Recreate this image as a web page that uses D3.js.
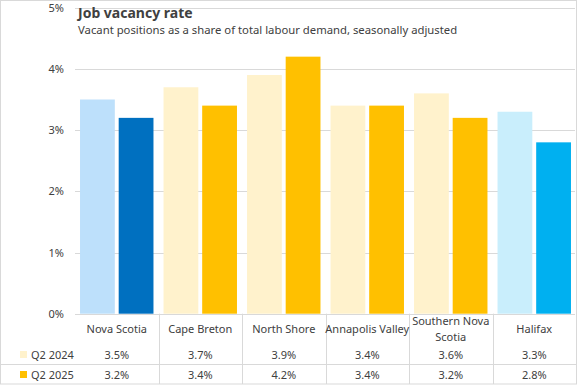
<!DOCTYPE html>
<html>
<head>
<meta charset="utf-8">
<script src="https://cdn.jsdelivr.net/npm/d3@7"></script>
<style>
  body { margin: 0; background: #fff; }
  text { font-family: "Noto Sans", sans-serif; fill: #404040; }
</style>
</head>
<body>
<div id="chart"></div>
<script>
var categories = ["Nova Scotia", "Cape Breton", "North Shore", "Annapolis Valley", "Southern Nova Scotia", "Halifax"];
var seriesNames = ["Q2 2024", "Q2 2025"];
var q2_2024 = [3.5, 3.7, 3.9, 3.4, 3.6, 3.3];
var q2_2025 = [3.2, 3.4, 4.2, 3.4, 3.2, 2.8];
var yTicks = [0, 1, 2, 3, 4, 5];

// colours per region: [light, dark]
var palette = [
  ["#BDE0FB", "#0070C0"],
  ["#FFF2CC", "#FFC000"],
  ["#FFF2CC", "#FFC000"],
  ["#FFF2CC", "#FFC000"],
  ["#FFF2CC", "#FFC000"],
  ["#C9EEFC", "#00B0F0"]
];

var W = 577, H = 385;
var left = 75, right = 576, top0 = 7.7, base = 313.7;

var svg = d3.select("#chart").append("svg")
    .attr("width", W)
    .attr("height", H);

svg.append("rect")
    .attr("x", 0.5).attr("y", 0.5)
    .attr("width", W - 1).attr("height", H - 1.5)
    .attr("fill", "none")
    .attr("stroke", "#D9D9D9");

var x = d3.scaleBand().domain(categories).range([left, right]).paddingInner(0).paddingOuter(0);
var x1 = d3.scaleBand().domain(seriesNames).range([0, x.bandwidth()]).paddingInner(0.1).paddingOuter(0.13);
var y = d3.scaleLinear().domain([0, 5]).range([base, top0]);

// gridlines
svg.append("g").selectAll("line")
    .data(yTicks)
    .enter().append("line")
    .attr("x1", left).attr("x2", right - 1)
    .attr("y1", d => Math.round(y(d)) + 0.5)
    .attr("y2", d => Math.round(y(d)) + 0.5)
    .attr("stroke", "#D9D9D9");

// y axis labels
var yAxis = d3.axisLeft(y).tickValues(yTicks).tickFormat(d => d + "%").tickSize(0).tickPadding(0);
var ya = svg.append("g")
    .attr("transform", "translate(64,0)")
    .call(yAxis);
ya.select(".domain").remove();
ya.selectAll("text")
    .style("font-family", "'Noto Sans', sans-serif")
    .style("font-size", "11px")
    .attr("fill", "#595959");

// bars
var groups = svg.append("g").selectAll("g")
    .data(categories)
    .enter().append("g")
    .attr("transform", d => "translate(" + x(d) + ",0)");

groups.selectAll("rect")
    .data((d, i) => [
      {s: seriesNames[0], v: q2_2024[i], c: palette[i][0]},
      {s: seriesNames[1], v: q2_2025[i], c: palette[i][1]}
    ])
    .enter().append("rect")
    .attr("x", d => x1(d.s))
    .attr("width", x1.bandwidth())
    .attr("y", d => y(d.v))
    .attr("height", d => y(0) - y(d.v))
    .attr("fill", d => d.c);

// title
svg.append("text")
    .attr("x", 78).attr("y", 18)
    .style("font-size", "14px")
    .style("font-weight", "bold")
    .attr("fill", "#000")
    .text("Job vacancy rate");

svg.append("text")
    .attr("x", 78).attr("y", 34)
    .style("font-size", "11.3px")
    .attr("fill", "#262626")
    .text("Vacant positions as a share of total labour demand, seasonally adjusted");

// data table
var table = svg.append("g");

table.selectAll(".vline")
    .data(categories.slice(1))
    .enter().append("line")
    .attr("class", "vline")
    .attr("x1", d => Math.round(x(d)) + 0.5)
    .attr("x2", d => Math.round(x(d)) + 0.5)
    .attr("y1", base)
    .attr("y2", H - 1)
    .attr("stroke", "#D9D9D9");

table.append("line")
    .attr("x1", 0).attr("x2", W)
    .attr("y1", 364.5).attr("y2", 364.5)
    .attr("stroke", "#D9D9D9");

// category labels
table.selectAll(".cat")
    .data(categories)
    .enter().append("text")
    .attr("class", "cat")
    .attr("text-anchor", "middle")
    .style("font-size", "11px")
    .attr("fill", "#404040")
    .each(function(d) {
      var t = d3.select(this);
      var cx = x(d) + x.bandwidth() / 2;
      var lines = d === "Southern Nova Scotia" ? ["Southern Nova", "Scotia"] : [d];
      var y0 = lines.length > 1 ? 325 : 333;
      lines.forEach(function(l, k) {
        t.append("tspan").attr("x", cx).attr("y", y0 + k * 16).text(l);
      });
    });

var rows = [q2_2024, q2_2025];
var rowY = [359, 379];
rows.forEach(function(vals, r) {
  table.append("rect")
    .attr("x", 20).attr("y", rowY[r] - 8)
    .attr("width", 7).attr("height", 7)
    .attr("fill", palette[1][r]);
  table.append("text")
    .attr("x", 31).attr("y", rowY[r])
    .style("font-size", "11px")
    .text(seriesNames[r]);
  table.selectAll(".v" + r)
    .data(vals)
    .enter().append("text")
    .attr("class", "v" + r)
    .attr("text-anchor", "middle")
    .attr("x", (d, i) => x(categories[i]) + x.bandwidth() / 2)
    .attr("y", rowY[r])
    .style("font-size", "11px")
    .text(d => d.toFixed(1) + "%");
});
</script>
</body>
</html>
